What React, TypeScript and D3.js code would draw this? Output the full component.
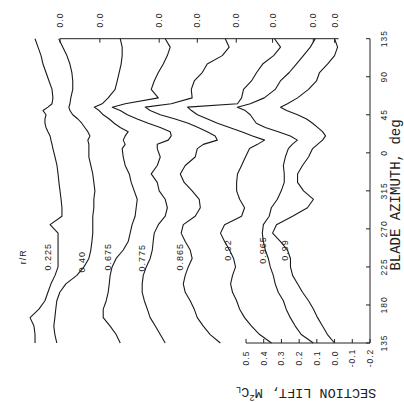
import React from "react";
import * as d3 from "d3";

// blade azimuth, unwrapped from 135 deg round to 135 deg again
const azimuth = [
  135, 145, 155, 165, 175, 185, 195, 205, 215, 225, 235, 245, 255, 265, 275, 285, 295, 305, 315, 325, 335, 345, 355, 365,
  370, 375, 380, 385, 390, 395, 400, 405, 410, 414, 418, 425, 435, 445, 455, 465, 475, 485, 495,
];

// section lift M^2 Cl, one list per radial station
const lift0225 = [0.141, 0.141, 0.147, 0.169, 0.119, 0.085, 0.068, 0.051, 0.028, 0.011, 0.011, 0.011, 0.011, 0.011, 0.056, -0.011, -0.011, -0.006, 0, 0.006, 0.011, 0.017, 0.028, 0.04, 0.045, 0.051, 0.056, 0.068, 0.079, 0.085, 0.085, 0.079, 0.096, 0.068, 0.045, 0.04, 0.045, 0.062, 0.079, 0.096, 0.107, 0.124, 0.141];
const lift040 = [0.243, 0.254, 0.26, 0.254, 0.249, 0.243, 0.226, 0.192, 0.13, 0.09, 0.062, 0.051, 0.045, 0.04, 0.04, 0.04, 0.034, 0.034, 0.028, 0.034, 0.04, 0.051, 0.062, 0.062, 0.062, 0.068, 0.056, 0.068, 0.085, 0.102, 0.124, 0.153, 0.169, 0.175, 0.169, 0.164, 0.153, 0.153, 0.158, 0.169, 0.186, 0.209, 0.232];
const lift0675 = [0.22, 0.243, 0.277, 0.316, 0.316, 0.299, 0.288, 0.282, 0.277, 0.266, 0.243, 0.203, 0.175, 0.164, 0.153, 0.136, 0.13, 0.124, 0.141, 0.158, 0.169, 0.192, 0.203, 0.209, 0.192, 0.203, 0.192, 0.175, 0.22, 0.254, 0.282, 0.316, 0.339, 0.367, 0.322, 0.288, 0.249, 0.237, 0.226, 0.215, 0.209, 0.209, 0.22];
const lift0775 = [0.181, 0.209, 0.237, 0.266, 0.282, 0.299, 0.311, 0.311, 0.305, 0.288, 0.266, 0.254, 0.249, 0.243, 0.22, 0.181, 0.169, 0.181, 0.215, 0.226, 0.26, 0.226, 0.209, 0.226, 0.226, 0.164, 0.147, 0.153, 0.209, 0.277, 0.339, 0.395, 0.435, 0.48, 0.407, 0.22, 0.26, 0.243, 0.22, 0.192, 0.169, 0.153, 0.181];
const lift0865 = [0.09, 0.147, 0.186, 0.22, 0.237, 0.26, 0.288, 0.299, 0.288, 0.271, 0.249, 0.26, 0.288, 0.311, 0.299, 0.232, 0.203, 0.209, 0.249, 0.294, 0.316, 0.288, 0.232, 0.22, 0.186, 0.107, 0.119, 0.164, 0.215, 0.271, 0.345, 0.429, 0.486, 0.514, 0.367, 0.249, 0.254, 0.237, 0.192, 0.164, 0.079, 0.04, 0.062];
const lift092 = [0.006, 0.073, 0.119, 0.158, 0.186, 0.203, 0.226, 0.237, 0.226, 0.209, 0.22, 0.243, 0.271, 0.294, 0.271, 0.175, 0.158, 0.186, 0.203, 0.203, 0.198, 0.175, 0.153, 0.13, 0.085, 0.045, 0.113, 0.175, 0.243, 0.311, 0.367, 0.424, 0.458, 0.48, 0.198, 0.175, 0.164, 0.119, 0.09, 0.056, -0.006, -0.045, -0.011];
const lift0965 = [0, 0.068, 0.102, 0.13, 0.153, 0.169, 0.198, 0.215, 0.226, 0.243, 0.254, 0.271, 0.282, 0.288, 0.282, 0.249, 0.237, 0.203, 0.181, 0.164, 0.164, 0.169, 0.158, 0.141, 0.119, 0.09, 0.13, 0.198, 0.271, 0.322, 0.339, 0.356, 0.384, 0.429, 0.356, 0.277, 0.215, 0.186, 0.136, 0.096, 0.056, 0.017, -0.011];
const lift099 = [0, 0.04, 0.068, 0.096, 0.119, 0.147, 0.181, 0.209, 0.237, 0.249, 0.249, 0.266, 0.305, 0.35, 0.328, 0.237, 0.153, 0.119, 0.175, 0.209, 0.209, 0.181, 0.147, 0.124, 0.096, 0.068, 0.051, 0.068, 0.096, 0.124, 0.158, 0.209, 0.271, 0.305, 0.266, 0.209, 0.147, 0.102, 0.085, 0.04, 0, -0.017, 0];

const radii = ["0.225", "0.40", "0.675", "0.775", "0.865", "0.92", "0.965", "0.99"];
const zeroOffsets = [1.55, 1.325, 0.99, 0.775, 0.555, 0.35, 0.12, 0];
const series = [lift0225, lift040, lift0675, lift0775, lift0865, lift092, lift0965, lift099];

const liftTicks = [0.5, 0.4, 0.3, 0.2, 0.1, 0, -0.1, -0.2];
const azTicks = [135, 180, 225, 270, 315, 360, 405, 450, 495];

// where the station names sit: [azimuth, lift on the stacked scale]
const labelAt: [number, number][] = [
  [237, 1.618], [231, 1.426], [237, 1.279], [236, 1.087], [237, 0.873], [245, 0.602], [245, 0.404], [245, 0.28],
];

const mono = "'Liberation Mono', 'DejaVu Sans Mono', monospace";
const sans = "'Liberation Sans', Arial, sans-serif";

export default function App() {
  const W = 404, H = 402;
  const y = d3.scaleLinear().domain([135, 495]).range([343, 38.7]);
  const x = d3.scaleLinear().domain([-0.2, 0.5]).range([370, 246]);

  const path = (vals: number[], off: number) =>
    d3.line<number>()
      .x((v) => x(v + off))
      .y((_, i) => y(azimuth[i]))(vals) || "";

  const rot = (px: number, py: number, deg: number) => `translate(${px},${py}) rotate(${deg})`;
  const yTop = y(495), yBot = y(135);
  const xLeft = x(0.5), xRight = x(-0.2);

  return (
    <svg width={W} height={H} style={{ position: "absolute", left: 0, top: 0, background: "#fff" }}>
      <g fill="none" stroke="#1a1a1a" strokeWidth={1.1} strokeLinejoin="round">
        {series.map((s, k) => (
          <path key={k} d={path(s, zeroOffsets[k])} />
        ))}
      </g>

      {/* zero line of each station */}
      <g stroke="#222" strokeWidth={1}>
        <line x1={x(zeroOffsets[0])} x2={x(0) + 4} y1={yTop} y2={yTop} />
        {zeroOffsets.map((o, k) => (
          <line key={k} x1={x(o)} x2={x(o)} y1={yTop} y2={yTop + 4} />
        ))}
      </g>
      {zeroOffsets.map((o, k) => (
        <text key={k} transform={rot(x(o), 20, -90)} textAnchor="middle" dominantBaseline="central"
          fontFamily={sans} fontSize={8.5} letterSpacing={1} fill="#222">0.0</text>
      ))}

      {/* azimuth axis */}
      <g stroke="#222" strokeWidth={1}>
        <line x1={xRight} x2={xRight} y1={yTop} y2={yBot} />
        {azTicks.map((a) => (
          <line key={a} x1={xRight - 4} x2={xRight} y1={y(a)} y2={y(a)} />
        ))}
      </g>
      {azTicks.map((a) => (
        <text key={a} transform={rot(384, y(a), -90)} textAnchor="middle" dominantBaseline="central"
          fontFamily={sans} fontSize={8.5} letterSpacing={1} fill="#222">{a % 360}</text>
      ))}
      <text transform={rot(396, 195, -90)} textAnchor="middle" dominantBaseline="central"
        fontFamily={mono} fontSize={14} fill="#222">BLADE AZIMUTH, deg</text>

      {/* lift axis */}
      <g stroke="#222" strokeWidth={1}>
        <line x1={xLeft} x2={xRight} y1={yBot} y2={yBot} />
        {liftTicks.map((v) => (
          <line key={v} x1={x(v)} x2={x(v)} y1={yBot - 4} y2={yBot} />
        ))}
      </g>
      {liftTicks.map((v) => (
        <text key={v} transform={rot(x(v), 358, -90)} textAnchor="middle" dominantBaseline="central"
          fontFamily={sans} fontSize={8.5} letterSpacing={1} fill="#222">
          {v === 0 ? "0.0" : v.toFixed(1)}
        </text>
      ))}
      <text transform={rot(306, 392, 180)} textAnchor="middle" dominantBaseline="central"
        fontFamily={mono} fontSize={13.5} fill="#222">
        SECTION LIFT, M<tspan fontSize={9} dy={-5}>2</tspan><tspan dy={5}>C</tspan>
        <tspan fontSize={9} dy={3}>L</tspan>
      </text>

      {/* station labels */}
      <text transform={rot(x(1.759), y(237), -90)} textAnchor="middle" dominantBaseline="central"
        fontFamily={sans} fontSize={9} letterSpacing={1} fill="#222">r/R</text>
      {radii.map((r, k) => (
        <text key={r} transform={rot(x(labelAt[k][1]), y(labelAt[k][0]), -90)} textAnchor="middle"
          dominantBaseline="central" fontFamily={sans} fontSize={9} letterSpacing={1} fill="#222">{r}</text>
      ))}
    </svg>
  );
}
